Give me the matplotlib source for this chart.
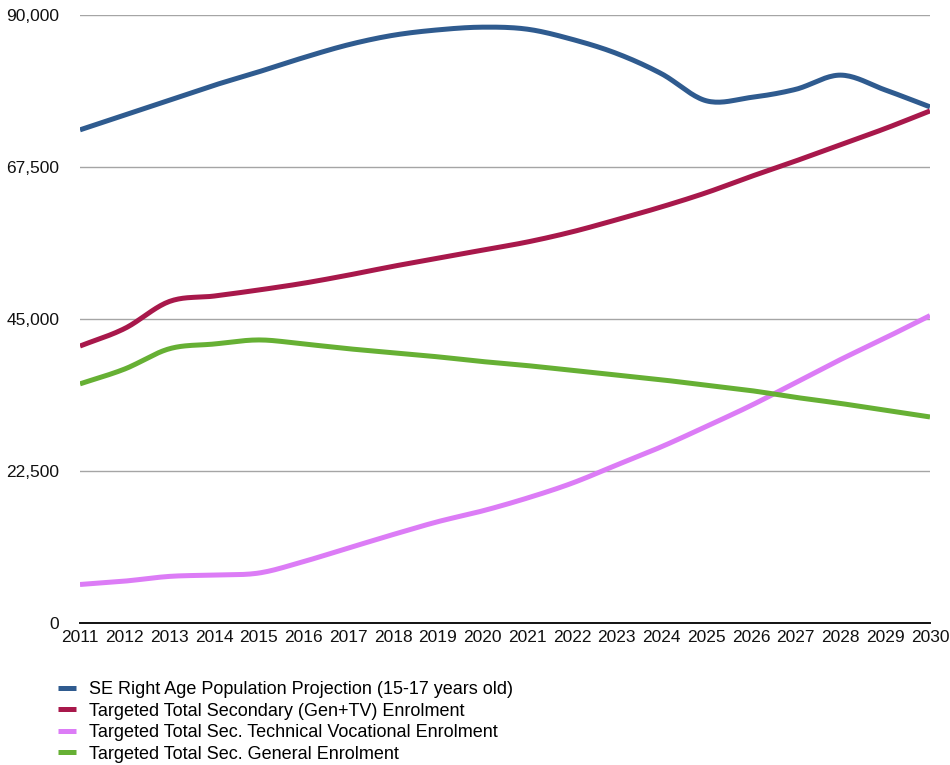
import numpy as np
import matplotlib
matplotlib.use("Agg")
import matplotlib.pyplot as plt
from matplotlib.ticker import FixedLocator, FuncFormatter

plt.rcParams['font.family'] = ['Liberation Sans', 'DejaVu Sans']

years = list(range(2011, 2031))

population = [73000, 75200, 77400, 79600, 81600, 83700, 85600, 87000, 87800, 88200,
              87900, 86400, 84300, 81300, 77300, 77800, 79000, 81100, 78900, 76400]
secondary = [41000, 43600, 47600, 48400, 49300, 50300, 51500, 52800, 54000, 55200,
             56400, 57900, 59700, 61600, 63700, 66100, 68400, 70800, 73200, 75800]
technical = [5700, 6200, 6900, 7100, 7400, 9100, 11100, 13100, 15000, 16600,
             18500, 20700, 23400, 26100, 29100, 32200, 35600, 39000, 42200, 45500]
general = [35400, 37600, 40600, 41300, 41900, 41300, 40600, 40000, 39400, 38700,
           38100, 37400, 36700, 36000, 35200, 34400, 33400, 32500, 31500, 30500]

labels = ["SE Right Age Population Projection (15-17 years old)",
          "Targeted Total Secondary (Gen+TV) Enrolment",
          "Targeted Total Sec. Technical Vocational Enrolment",
          "Targeted Total Sec. General Enrolment"]
colors = ["#2f5b8f", "#a8184b", "#dc7cf6", "#66b034"]
y_ticks = [0, 22500, 45000, 67500, 90000]


def smooth(x, y, n=20):
    """Catmull-Rom curve through the data points."""
    x = np.asarray(x, float)
    y = np.asarray(y, float)
    px = np.concatenate([[2 * x[0] - x[1]], x, [2 * x[-1] - x[-2]]])
    py = np.concatenate([[2 * y[0] - y[1]], y, [2 * y[-1] - y[-2]]])
    xs, ys = [], []
    t = np.linspace(0, 1, n, endpoint=False)
    for i in range(1, len(px) - 2):
        for arr, out in ((px, xs), (py, ys)):
            p0, p1, p2, p3 = arr[i - 1], arr[i], arr[i + 1], arr[i + 2]
            out.extend(0.5 * ((2 * p1) + (-p0 + p2) * t
                              + (2 * p0 - 5 * p1 + 4 * p2 - p3) * t ** 2
                              + (-p0 + 3 * p1 - 3 * p2 + p3) * t ** 3))
    xs.append(x[-1])
    ys.append(y[-1])
    return np.array(xs), np.array(ys)


fig = plt.figure(figsize=(9.5, 7.65), dpi=100)
ax = fig.add_axes([80 / 950, 1 - 623 / 765, 850 / 950, 608 / 765])

handles = []
for series, color, label in zip([population, secondary, technical, general], colors, labels):
    sx, sy = smooth(years, series)
    h, = ax.plot(sx, sy, color=color, lw=3.6, solid_capstyle='butt', label=label)
    handles.append(h)

ax.set_xlim(years[0], years[-1])
ax.set_ylim(0, 90000)
ax.xaxis.set_major_locator(FixedLocator(years))
ax.set_xticklabels([str(y) for y in years])
ax.yaxis.set_major_locator(FixedLocator(y_ticks))
ax.yaxis.set_major_formatter(FuncFormatter(lambda v, p: f"{int(v):,}"))
ax.tick_params(axis='both', length=0, labelsize=12.5, colors='#111111')
ax.tick_params(axis='x', pad=5)
ax.tick_params(axis='y', pad=15)

ax.grid(axis='y', color='#a5a5a5', lw=1)
ax.set_axisbelow(True)
for side in ('left', 'right', 'top'):
    ax.spines[side].set_visible(False)
ax.spines['bottom'].set_color('#111111')
ax.spines['bottom'].set_linewidth(1.4)
ax.spines['bottom'].set_zorder(5)

fig.legend(handles=handles, labels=labels, loc='upper left',
           bbox_to_anchor=(51 / 950, 1 - 674 / 765), frameon=False,
           fontsize=13, handlelength=1.0, handletextpad=0.72,
           labelspacing=0.25, borderaxespad=0)

fig.savefig("out.png", dpi=100)
